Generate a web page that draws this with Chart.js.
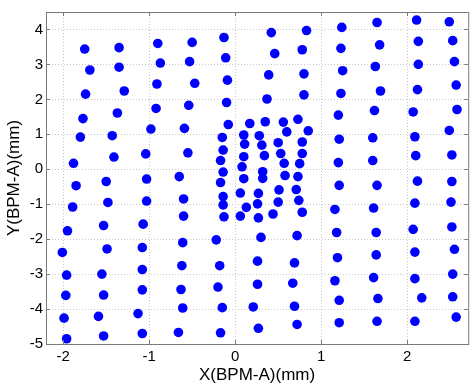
<!DOCTYPE html>
<html>
<head>
<meta charset="utf-8">
<script src="https://cdn.jsdelivr.net/npm/chart.js@4"></script>
<style>
  html, body { margin: 0; padding: 0; background: #fff; overflow: hidden; }
  #wrap { width: 473px; height: 390px; }
</style>
</head>
<body>
<div id="wrap"><canvas id="chart" width="473" height="390"></canvas></div>
<script>
// beam positions, one column at a time (top to bottom), mm
const col1X = [-1.75, -1.69, -1.74, -1.77, -1.80, -1.88, -1.85, -1.89, -1.95, -2.01, -1.96, -1.97, -1.99, -1.96];
const col1Y = [3.44, 2.84, 2.15, 1.45, 0.92, 0.17, -0.47, -1.08, -1.76, -2.38, -3.03, -3.61, -4.26, -4.85];
const col2X = [-1.35, -1.35, -1.29, -1.37, -1.43, -1.41, -1.50, -1.48, -1.53, -1.49, -1.55, -1.53, -1.59, -1.53];
const col2Y = [3.48, 2.92, 2.24, 1.61, 0.96, 0.35, -0.35, -0.95, -1.61, -2.28, -3.00, -3.60, -4.21, -4.77];
const col3X = [-0.90, -0.87, -0.91, -0.92, -0.98, -1.04, -1.03, -1.03, -1.07, -1.08, -1.08, -1.08, -1.13, -1.08];
const col3Y = [3.60, 3.04, 2.44, 1.74, 1.15, 0.44, -0.28, -0.91, -1.57, -2.24, -2.87, -3.45, -4.13, -4.70];
const col4X = [-0.50, -0.53, -0.47, -0.54, -0.59, -0.55, -0.65, -0.60, -0.60, -0.61, -0.62, -0.63, -0.61, -0.66];
const col4Y = [3.63, 3.08, 2.46, 1.83, 1.17, 0.47, -0.21, -0.85, -1.34, -2.10, -2.76, -3.44, -3.97, -4.67];
const col5X = [-0.13, -0.11, -0.09, -0.10, -0.08, -0.22, -0.18, -0.20, -0.15, -0.17];
const col5Y = [3.77, 3.19, 2.55, 1.91, 1.28, -2.02, -2.76, -3.37, -3.96, -4.68];
const col6X = [0.42, 0.46, 0.39, 0.37, 0.30, 0.26, 0.26, 0.21, 0.27];
const col6Y = [3.91, 3.31, 2.70, 2.01, -1.95, -2.63, -3.29, -3.94, -4.55];
const col7X = [0.83, 0.78, 0.80, 0.80, 0.72, 0.69, 0.67, 0.69, 0.72];
const col7Y = [3.97, 3.42, 2.73, 2.13, -1.90, -2.68, -3.26, -3.92, -4.44];
const col8X = [1.24, 1.23, 1.25, 1.23, 1.20, 1.21, 1.20, 1.21, 1.16, 1.18, 1.19, 1.16, 1.21, 1.21];
const col8Y = [4.06, 3.46, 2.82, 2.17, 1.55, 0.86, 0.19, -0.46, -1.15, -1.81, -2.53, -3.19, -3.75, -4.39];
const col9X = [1.65, 1.68, 1.63, 1.69, 1.62, 1.60, 1.60, 1.65, 1.61, 1.64, 1.64, 1.61, 1.66, 1.65];
const col9Y = [4.20, 3.56, 2.94, 2.24, 1.68, 0.90, 0.25, -0.46, -1.11, -1.81, -2.45, -3.10, -3.70, -4.35];
const col10X = [2.11, 2.13, 2.13, 2.12, 2.07, 2.09, 2.10, 2.12, 2.09, 2.07, 2.09, 2.09, 2.17, 2.09];
const col10Y = [4.27, 3.66, 3.00, 2.28, 1.64, 0.93, 0.39, -0.34, -0.97, -1.72, -2.37, -3.13, -3.68, -4.35];
const col11X = [2.49, 2.53, 2.55, 2.57, 2.58, 2.49, 2.52, 2.52, 2.51, 2.52, 2.55, 2.53, 2.53, 2.57];
const col11Y = [4.22, 3.68, 3.08, 2.41, 1.71, 1.11, 0.41, -0.35, -0.94, -1.65, -2.29, -3.00, -3.65, -4.23];

// fine scan near the centre, row by row
const centreX = [
  0.17, 0.35, 0.56, 0.73,
  -0.15, 0.10, 0.28, 0.60, 0.85,
  -0.14, 0.11, 0.31, 0.50, 0.78,
  -0.17, 0.10, 0.34, 0.53, 0.78,
  -0.14, 0.08, 0.32, 0.57, 0.75,
  -0.17, 0.10, 0.32, 0.58, 0.73,
  -0.14, 0.06, 0.27, 0.51, 0.71,
  -0.14, 0.13, 0.26, 0.50, 0.74,
  -0.13, 0.06, 0.27, 0.44, 0.78
];
const centreY = [
  1.31, 1.36, 1.35, 1.43,
  0.91, 0.98, 0.96, 1.07, 1.10,
  0.55, 0.72, 0.69, 0.76, 0.78,
  0.25, 0.36, 0.39, 0.45, 0.45,
  -0.08, 0.07, -0.07, 0.17, 0.16,
  -0.38, -0.27, -0.26, -0.18, -0.21,
  -0.78, -0.68, -0.69, -0.59, -0.58,
  -1.02, -1.09, -0.99, -0.94, -0.89,
  -1.36, -1.34, -1.39, -1.28, -1.23
];

const xTicks = [-2, -1, 0, 1, 2];
const yTicks = [-5, -4, -3, -2, -1, 0, 1, 2, 3, 4];

const allX = [col1X, col2X, col3X, col4X, col5X, col6X, col7X, col8X, col9X, col10X, col11X, centreX];
const allY = [col1Y, col2Y, col3Y, col4Y, col5Y, col6Y, col7Y, col8Y, col9Y, col10Y, col11Y, centreY];

const points = [];
allX.forEach((xs, i) => {
  xs.forEach((x, j) => points.push({ x: x, y: allY[i][j] }));
});

const font = { family: '"Liberation Sans", Arial, sans-serif', size: 15 };
const titleFont = { family: '"Liberation Sans", Arial, sans-serif', size: 17 };

// matlab style box with small inward ticks
const axesBox = {
  id: 'axesBox',
  afterDraw(chart) {
    const { ctx, chartArea: a, scales } = chart;
    ctx.save();
    ctx.strokeStyle = '#7a7a7a';
    ctx.lineWidth = 1;
    ctx.beginPath();
    scales.x.ticks.forEach(t => {
      const px = Math.round(scales.x.getPixelForValue(t.value)) + 0.5;
      ctx.moveTo(px, a.bottom); ctx.lineTo(px, a.bottom - 4);
      ctx.moveTo(px, a.top); ctx.lineTo(px, a.top + 4);
    });
    scales.y.ticks.forEach(t => {
      const py = Math.round(scales.y.getPixelForValue(t.value)) + 0.5;
      ctx.moveTo(a.left, py); ctx.lineTo(a.left + 4, py);
      ctx.moveTo(a.right, py); ctx.lineTo(a.right - 4, py);
    });
    ctx.stroke();
    ctx.strokeRect(a.left + 0.5, a.top + 0.5, a.right - a.left, a.bottom - a.top);
    ctx.restore();
  }
};

new Chart(document.getElementById('chart'), {
  type: 'scatter',
  data: {
    datasets: [{
      label: 'BPM-A',
      data: points,
      backgroundColor: '#0000ff',
      borderWidth: 0,
      pointRadius: 4.8,
      pointHoverRadius: 4.8
    }]
  },
  options: {
    responsive: false,
    animation: false,
    events: [],
    layout: { padding: { top: 7, right: -3, left: 0, bottom: 0 } },
    plugins: {
      legend: { display: false },
      tooltip: { enabled: false }
    },
    scales: {
      x: {
        type: 'linear',
        min: -2.2,
        max: 2.71,
        afterFit: s => { s.height = 46; },
        afterBuildTicks: s => { s.ticks = xTicks.map(v => ({ value: v })); },
        grid: { color: '#c8c8c8', drawTicks: false },
        border: { display: false, dash: [1, 2] },
        ticks: { color: '#000', font: font, padding: 4, maxRotation: 0, autoSkip: false },
        title: { display: true, text: 'X(BPM-A)(mm)', color: '#000', font: titleFont, padding: 4 }
      },
      y: {
        type: 'linear',
        min: -5,
        max: 4.5,
        afterFit: s => { s.width = 46; },
        afterBuildTicks: s => { s.ticks = yTicks.map(v => ({ value: v })); },
        grid: { color: '#c8c8c8', drawTicks: false },
        border: { display: false, dash: [1, 2] },
        ticks: { color: '#000', font: font, padding: 3, autoSkip: false },
        title: { display: true, text: 'Y(BPM-A)(mm)', color: '#000', font: titleFont, padding: 4 }
      }
    }
  },
  plugins: [axesBox]
});
</script>
</body>
</html>
